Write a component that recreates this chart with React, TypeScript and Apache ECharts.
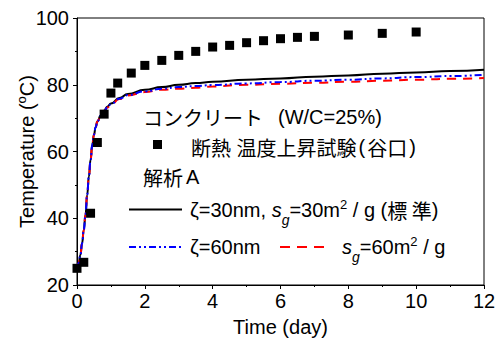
import React, { useEffect, useRef } from "react";
import * as echarts from "echarts";

// Analysis curves (time in days, temperature in °C)
const curveTime = [0, 0.05, 0.1, 0.15, 0.2, 0.25, 0.3, 0.35, 0.4, 0.45, 0.5, 0.55, 0.6, 0.7, 0.8, 0.9, 1.0, 1.25, 1.5, 2, 2.5, 3, 3.5, 4, 5, 6, 7, 8, 9, 10, 11, 12];
const standardCurve = [25, 26.5, 29, 32.5, 36.5, 41, 47, 52.5, 57.5, 62, 65, 67.3, 69, 70.8, 72.3, 73.5, 74.4, 76, 77.2, 78.5, 79.3, 80, 80.5, 80.9, 81.5, 81.9, 82.4, 82.8, 83.3, 83.7, 84.1, 84.5];
const zeta60Curve = [25, 26.5, 29, 32.5, 36.5, 41, 47, 52.5, 57.5, 62, 65, 67.3, 69, 70.7, 72.1, 73.3, 74.2, 75.8, 76.9, 78.0, 78.8, 79.3, 79.6, 79.9, 80.4, 80.8, 81.2, 81.5, 81.9, 82.3, 82.6, 83.0];
const sg60Curve = [25, 26.5, 29, 32.5, 36.5, 41, 47, 52.5, 57.5, 62, 65, 67.3, 69, 70.7, 72.1, 73.2, 74.1, 75.7, 76.8, 77.8, 78.5, 78.8, 79.1, 79.5, 80.0, 80.3, 80.6, 80.9, 81.2, 81.5, 81.8, 82.0];

// Adiabatic temperature rise test (Taniguchi)
const testTime = [0, 0.2, 0.4, 0.6, 0.8, 1.0, 1.2, 1.6, 2, 2.5, 3, 3.5, 4, 4.5, 5, 5.5, 6, 6.5, 7, 8, 9, 10];
const testTemp = [25, 26.8, 41.5, 62.7, 71.2, 77.5, 80.5, 83.5, 85.8, 87.3, 88.8, 90, 91.3, 91.8, 92.6, 93.2, 93.8, 94.2, 94.5, 94.9, 95.4, 95.8];

const xTicks = { min: 0, max: 12, interval: 2 };
const yTicks = { min: 20, max: 100, interval: 20 };

const FONT = "'Liberation Sans', Arial, 'Noto Sans CJK JP', sans-serif";
const CJK = "'Noto Sans CJK JP', sans-serif";

const pair = (xs: number[], ys: number[]) => xs.map((x, i) => [x, ys[i]]);

const richBase = {
  a: { fontSize: 20, fontFamily: FONT, color: "#000", lineHeight: 22 },
  j: { fontSize: 20, fontFamily: CJK, color: "#000", lineHeight: 22 },
  p: { fontSize: 20, fontFamily: FONT, color: "#000", lineHeight: 22, padding: [0, 2, 0, 2] },
  A: { fontSize: 20, fontFamily: FONT, color: "#000", lineHeight: 22, padding: [0, 0, 0, 3] },
  i: { fontSize: 20, fontFamily: FONT, fontStyle: "italic", color: "#000", lineHeight: 22 },
  sub: { fontSize: 14, fontFamily: FONT, fontStyle: "italic", color: "#000", lineHeight: 14, padding: [20, 0, 0, 0] },
  sup: { fontSize: 13, fontFamily: FONT, color: "#000", lineHeight: 14, padding: [0, 0, 12, 0] },
};

export default function App() {
  const ref = useRef<HTMLDivElement>(null);
  useEffect(() => {
    if (!ref.current) return;
    const chart = echarts.init(ref.current, undefined, { renderer: "svg" });
    const txt = (x: number, y: number, text: string) => ({
      type: "text",
      x,
      y,
      z: 100,
      style: { text, rich: richBase, verticalAlign: "middle", textAlign: "left" },
    });
    chart.setOption({
      animation: false,
      backgroundColor: "#fff",
      grid: {
        left: 77, right: 20, top: 18, bottom: 57,
        show: true, borderColor: "#000", borderWidth: 1,
        containLabel: false, outerBoundsMode: "none",
      },
      xAxis: {
        type: "value",
        ...xTicks,
        name: "Time (day)",
        nameLocation: "middle",
        nameGap: 32,
        nameMoveOverlap: false,
        nameTextStyle: { fontSize: 20, fontFamily: FONT, color: "#000" },
        axisLine: { show: true, onZero: false, lineStyle: { color: "#000", width: 1 } },
        axisTick: { show: true, length: 4, lineStyle: { color: "#000" } },
        minorTick: { show: true, splitNumber: 2, length: 2, lineStyle: { color: "#000" } },
        splitLine: { show: false },
        axisLabel: { fontSize: 20, fontFamily: FONT, color: "#000", margin: 6 },
      },
      yAxis: {
        type: "value",
        ...yTicks,
        name: "{a|Temperature (}{sup|o}{a|C)}",
        nameLocation: "middle",
        nameGap: 39,
        nameMoveOverlap: false,
        nameRotate: 90,
        nameTextStyle: {
          fontSize: 20,
          fontFamily: FONT,
          color: "#000",
          rich: {
            a: { fontSize: 20, fontFamily: FONT, color: "#000", lineHeight: 22 },
            sup: { fontSize: 13, fontFamily: FONT, color: "#000", lineHeight: 14, padding: [0, 0, 12, 0] },
          },
        },
        axisLine: { show: true, onZero: false, lineStyle: { color: "#000", width: 1 } },
        axisTick: { show: true, length: 4, lineStyle: { color: "#000" } },
        minorTick: { show: true, splitNumber: 2, length: 2, lineStyle: { color: "#000" } },
        splitLine: { show: false },
        axisLabel: { fontSize: 20, fontFamily: FONT, color: "#000", margin: 8 },
      },
      series: [
        {
          type: "line",
          name: "standard",
          data: pair(curveTime, standardCurve),
          showSymbol: false,
          smooth: true,
          smoothMonotone: "x",
          lineStyle: { color: "#000", width: 2 },
          z: 3,
        },
        {
          type: "line",
          name: "zeta60",
          data: pair(curveTime, zeta60Curve),
          showSymbol: false,
          smooth: true,
          smoothMonotone: "x",
          lineStyle: { color: "#0000ff", width: 2, type: [7, 3, 2, 3, 2, 3] },
          z: 4,
        },
        {
          type: "line",
          name: "sg60",
          data: pair(curveTime, sg60Curve),
          showSymbol: false,
          smooth: true,
          smoothMonotone: "x",
          lineStyle: { color: "#ff0000", width: 2, type: [9, 7] },
          z: 3,
        },
        {
          type: "scatter",
          name: "test",
          data: pair(testTime, testTemp),
          symbol: "rect",
          symbolSize: 9,
          itemStyle: { color: "#000", opacity: 1 },
          z: 5,
        },
      ],
      graphic: [
        txt(143, 117, "{j|コンクリート}"),
        txt(278, 117, "{a|(W/C=25%)}"),
        { type: "rect", z: 100, shape: { x: 153, y: 140, width: 9, height: 9 }, style: { fill: "#000" } },
        txt(191, 147, "{j|断熱}{a| }{j|温度上昇試験}{p|(}{j|谷口}{p|)}"),
        txt(143, 177, "{j|解析}{A|A}"),
        { type: "line", z: 100, shape: { x1: 129, y1: 209.5, x2: 182, y2: 209.5 }, style: { stroke: "#000", lineWidth: 2 } },
        txt(190, 210, "{a|ζ=30nm, }{i|s}{sub|g}{a|=30m}{sup|2}{a| / g (}{j|標 準}{a|)}"),
        { type: "line", z: 100, shape: { x1: 129, y1: 247, x2: 182, y2: 247 }, style: { stroke: "#0000ff", lineWidth: 2, lineDash: [7, 3, 2, 3, 2, 3] } },
        txt(190, 247, "{a|ζ=60nm}"),
        { type: "line", z: 100, shape: { x1: 280, y1: 247, x2: 330, y2: 247 }, style: { stroke: "#ff0000", lineWidth: 2, lineDash: [10, 7] } },
        txt(342, 247, "{i|s}{sub|g}{a|=60m}{sup|2}{a| / g}"),
      ],
    });
    return () => chart.dispose();
  }, []);
  return <div ref={ref} style={{ position: "fixed", left: 0, top: 0, width: 504, height: 342 }} />;
}
